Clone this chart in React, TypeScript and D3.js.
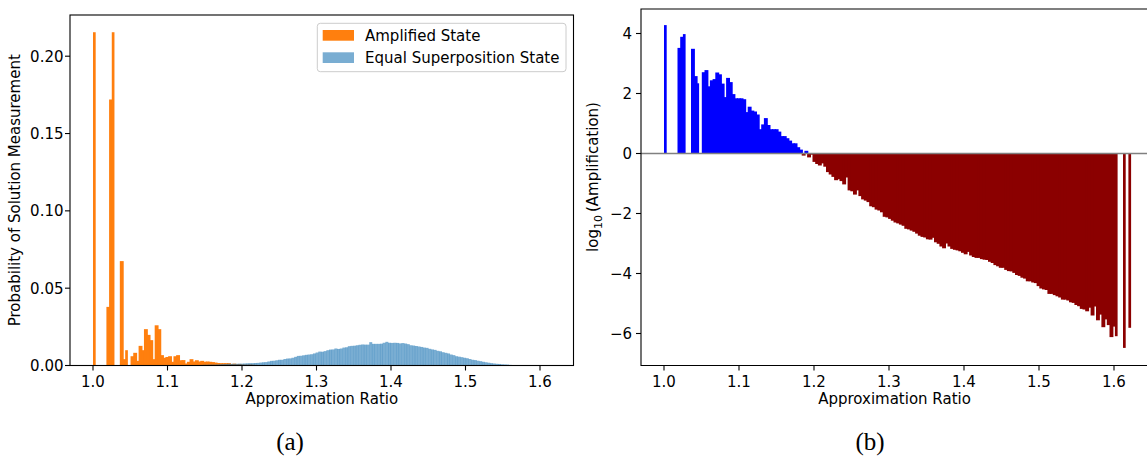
import React from 'react';
import * as d3 from 'd3';

// Bins of approximation ratio: bin i covers [BIN_START + i*BIN_WIDTH, BIN_START + (i+1)*BIN_WIDTH]
const BIN_START = 1.0;
const BIN_WIDTH = 0.0036;

// Probability of measuring each ratio bin after amplification (bins 0..64; later bins are negligible)
const amplifiedState = [
  0.2155, 0, 0, 0, 0, 0.0379, 0.172, 0.2155, 0, 0,
  0.0675, 0.0041, 0.0099, 0, 0.006, 0.0082, 0.003, 0.0127, 0.0099, 0.0235,
  0.0198, 0.0164, 0.0041, 0.026, 0.0235, 0.0067, 0.005, 0.0055, 0.006, 0.0024,
  0.006, 0.0067, 0.0034, 0.0035, 0.0013, 0.0024, 0.0041, 0.0026, 0.0034, 0.0026,
  0.003, 0.0024, 0.0026, 0.0024, 0.0022, 0.0019, 0.0016, 0.0015, 0.0015, 0.0015,
  0.0015, 0.0009, 0.0012, 0.0008, 0.001, 0.0007, 0.0006, 0.0006, 0.0007, 0.0005,
  0.0004, 0.0003, 0.0003, 0.0003, 0.0003,
];

// Probability under the equal superposition state, starting at bin EQUAL_FIRST_BIN
const EQUAL_FIRST_BIN = 40;
const equalSuperposition = [
  0.0004, 0.0005, 0.0005, 0.0006, 0.0006, 0.0006, 0.0007, 0.0008, 0.0009, 0.001,
  0.0011, 0.0011, 0.0011, 0.0011, 0.0012, 0.0012, 0.0013, 0.0014, 0.0015, 0.0015,
  0.0016, 0.0017, 0.0019, 0.0021, 0.0022, 0.0026, 0.003, 0.0031, 0.0034, 0.0037,
  0.0037, 0.0042, 0.0045, 0.0046, 0.005, 0.0056, 0.0062, 0.0063, 0.0066, 0.0069,
  0.0071, 0.0073, 0.0078, 0.0084, 0.009, 0.0089, 0.0093, 0.0099, 0.0103, 0.0104,
  0.011, 0.0107, 0.011, 0.0116, 0.0118, 0.0125, 0.0127, 0.0128, 0.0131, 0.0134,
  0.0136, 0.0135, 0.0135, 0.0151, 0.014, 0.014, 0.014, 0.0141, 0.0147, 0.0153,
  0.0147, 0.0146, 0.0147, 0.0146, 0.0143, 0.0145, 0.0142, 0.0138, 0.0131, 0.0129,
  0.0126, 0.0123, 0.012, 0.0116, 0.0114, 0.0108, 0.0104, 0.0101, 0.0095, 0.0092,
  0.0086, 0.0082, 0.0078, 0.0071, 0.0067, 0.006, 0.0057, 0.0054, 0.005, 0.0047,
  0.0042, 0.0037, 0.0035, 0.0031, 0.0028, 0.0024, 0.0021, 0.0018, 0.0015, 0.0013,
  0.0011, 0.001, 0.0008, 0.0007, 0.0006, 0.0004, 0.0003, 0.0002,
];

// log10 of amplified / equal probability per bin (null: ratio not reached)
const log10Amplification: (number | null)[] = [
  4.28, null, null, null, null, 3.52, 3.89, 3.98, null, null,
  3.49, 2.58, 2.34, null, 2.71, 2.78, 2.24, 2.44, 2.48, 2.7,
  2.64, 2.33, 1.88, 2.52, 2.38, 1.98, 1.84, 1.84, 1.84, 1.81,
  1.38, 1.56, 1.43, 1.4, 1.3, 0.81, 0.97, 1.18, 0.95, 0.81,
  0.81, 0.81, 0.73, 0.58, 0.58, 0.51, 0.43, 0.34, 0.34, 0.21,
  0.13, -0.07, 0.09, -0.13, -0.04, -0.28, -0.35, -0.4, -0.33, -0.44,
  -0.62, -0.7, -0.78, -0.89, -0.86, -0.92, -1.03, -0.8, -1.23, -1.26,
  -1.37, -1.23, -1.42, -1.53, -1.57, -1.62, -1.76, -1.79, -1.87, -1.9,
  -1.96, -2.11, -2.13, -2.18, -2.24, -2.3, -2.33, -2.37, -2.41, -2.51,
  -2.53, -2.57, -2.61, -2.67, -2.74, -2.78, -2.8, -2.86, -2.87, -2.81,
  -2.96, -3.01, -3.1, -3.16, -3.0, -3.1, -3.18, -3.21, -3.23, -3.26,
  -3.31, -3.36, -3.28, -3.4, -3.45, -3.48, -3.48, -3.52, -3.54, -3.55,
  -3.61, -3.65, -3.72, -3.76, -3.81, -3.81, -3.88, -3.92, -3.93, -3.98,
  -4.05, -4.08, -4.14, -4.17, -4.26, -4.26, -4.3, -4.32, -4.42, -4.5,
  -4.53, -4.55, -4.68, -4.68, -4.72, -4.76, -4.8, -4.87, -4.87, -4.9,
  -4.96, -4.98, -5.05, -5.09, -5.18, -5.2, -5.26, -5.14, -5.4, -5.1,
  -5.56, -5.37, -5.79, -5.53, -5.72, -6.12, -5.77, -6.09, null, null,
  -6.48, null, -5.81,
];

const ratioTicks = [1.0, 1.1, 1.2, 1.3, 1.4, 1.5, 1.6];
const probTicks = [0, 0.05, 0.1, 0.15, 0.2];
const logTicks = [-6, -4, -2, 0, 2, 4];

const legendItems = [
  { label: 'Amplified State', color: '#ff7f0e', opacity: 1 },
  { label: 'Equal Superposition State', color: '#1f77b4', opacity: 0.6 },
];

const FONT = 'DejaVu Sans, sans-serif';
const FS = 15;
const TICK = 5;
const SPINE = 1.1;
// solid bars are drawn a little wider so neighbouring bins fuse without seams
const SEAM = 1.2;

const binLo = (i: number) => BIN_START + i * BIN_WIDTH;
const binHi = (i: number) => BIN_START + (i + 1) * BIN_WIDTH;

export default function App() {
  // Left panel frame
  const L = { x0: 70, x1: 573.5, y0: 15, y1: 365.5 };
  const xL = d3.scaleLinear().domain([1.0, 1.6]).range([93, 540]);
  const yL = d3.scaleLinear().domain([0, 0.2]).range([365.5, 56.2]);

  // Right panel frame (right spine falls just past the page edge)
  const R = { x0: 641, x1: 1148, y0: 9, y1: 365.5 };
  const xR = d3.scaleLinear().domain([1.0, 1.6]).range([664, 1114]);
  const yR = d3.scaleLinear().domain([0, 4]).range([153.5, 33.5]);

  const fmt2 = d3.format('.2f');
  const fmt1 = d3.format('.1f');
  const fmtLog = (v: number) => (v < 0 ? '\u2212' + Math.abs(v) : String(v));

  const orangeBars = amplifiedState.map((p, i) => ({ i, p })).filter((d) => d.p > 0);
  const blueBars = equalSuperposition.map((p, k) => ({ i: k + EQUAL_FIRST_BIN, p }));
  const logBars = log10Amplification
    .map((v, i) => ({ i, v }))
    .filter((d) => d.v !== null) as { i: number; v: number }[];

  // a bar continues into the next bin if that bin is also drawn
  const amplifiedNext = (i: number) => (amplifiedState[i + 1] ?? 0) > 0;
  const logNext = (i: number) => log10Amplification[i + 1] != null;

  const legX = 317.3;
  const legY = 23.3;

  return (
    <svg
      width={1147}
      height={460}
      style={{ position: 'absolute', left: 0, top: 0, background: '#fff' }}
      fontFamily={FONT}
    >
      <rect x={0} y={0} width={1147} height={460} fill="#fff" />

      {/* ---------- Left panel ---------- */}
      <g>
        {orangeBars.map((d) => (
          <rect
            key={'o' + d.i}
            x={xL(binLo(d.i))}
            width={xL(binHi(d.i)) - xL(binLo(d.i)) + (amplifiedNext(d.i) ? SEAM : 0)}
            y={yL(d.p)}
            height={yL(0) - yL(d.p)}
            fill="#ff7f0e"
          />
        ))}
        {blueBars.map((d) => (
          <rect
            key={'b' + d.i}
            x={xL(binLo(d.i))}
            width={(xL(binHi(d.i)) - xL(binLo(d.i))) * 1.12}
            y={yL(d.p)}
            height={yL(0) - yL(d.p)}
            fill="#1f77b4"
            fillOpacity={0.6}
          />
        ))}

        <rect
          x={L.x0}
          y={L.y0}
          width={L.x1 - L.x0}
          height={L.y1 - L.y0}
          fill="none"
          stroke="#000"
          strokeWidth={SPINE}
        />

        {ratioTicks.map((t) => (
          <g key={'lx' + t}>
            <line x1={xL(t)} x2={xL(t)} y1={L.y1} y2={L.y1 + TICK} stroke="#000" strokeWidth={SPINE} />
            <text x={xL(t)} y={386.5} textAnchor="middle" fontSize={FS}>
              {fmt1(t)}
            </text>
          </g>
        ))}
        {probTicks.map((t) => (
          <g key={'ly' + t}>
            <line x1={L.x0 - TICK} x2={L.x0} y1={yL(t)} y2={yL(t)} stroke="#000" strokeWidth={SPINE} />
            <text x={63.5} y={yL(t) + 5.4} textAnchor="end" fontSize={FS}>
              {fmt2(t)}
            </text>
          </g>
        ))}

        <text x={(L.x0 + L.x1) / 2} y={403.5} textAnchor="middle" fontSize={FS}>
          Approximation Ratio
        </text>
        <text
          transform={`translate(20,${(L.y0 + L.y1) / 2}) rotate(-90)`}
          textAnchor="middle"
          fontSize={FS}
        >
          Probability of Solution Measurement
        </text>

        {/* legend */}
        <rect
          x={legX}
          y={legY}
          width={248.7}
          height={48.4}
          rx={3}
          fill="#fff"
          fillOpacity={0.8}
          stroke="#cccccc"
          strokeWidth={1}
        />
        {legendItems.map((it, k) => (
          <g key={it.label}>
            <rect
              x={legX + 5.4}
              y={legY + 6.7 + k * 22.3}
              width={31.3}
              height={10.7}
              fill={it.color}
              fillOpacity={it.opacity}
            />
            <text x={365} y={legY + 17.5 + k * 22.3} fontSize={FS}>
              {it.label}
            </text>
          </g>
        ))}
      </g>

      {/* ---------- Right panel ---------- */}
      <g>
        {logBars.map((d) => {
          const y0 = yR(0);
          const y1 = yR(d.v);
          return (
            <rect
              key={'r' + d.i}
              x={xR(binLo(d.i))}
              width={xR(binHi(d.i)) - xR(binLo(d.i)) + (logNext(d.i) ? SEAM : 0)}
              y={Math.min(y0, y1)}
              height={Math.abs(y1 - y0)}
              fill={d.v >= 0 ? '#0000ff' : '#8b0000'}
            />
          );
        })}

        <line x1={R.x0} x2={R.x1} y1={yR(0)} y2={yR(0)} stroke="#808080" strokeWidth={1.4} />

        <path
          d={`M${R.x1},${R.y0}H${R.x0}V${R.y1}H${R.x1}`}
          fill="none"
          stroke="#000"
          strokeWidth={SPINE}
        />

        {ratioTicks.map((t) => (
          <g key={'rx' + t}>
            <line x1={xR(t)} x2={xR(t)} y1={R.y1} y2={R.y1 + TICK} stroke="#000" strokeWidth={SPINE} />
            <text x={xR(t)} y={386.5} textAnchor="middle" fontSize={FS}>
              {fmt1(t)}
            </text>
          </g>
        ))}
        {logTicks.map((t) => (
          <g key={'ry' + t}>
            <line x1={R.x0 - TICK} x2={R.x0} y1={yR(t)} y2={yR(t)} stroke="#000" strokeWidth={SPINE} />
            <text x={632} y={yR(t) + 5.4} textAnchor="end" fontSize={FS}>
              {fmtLog(t)}
            </text>
          </g>
        ))}

        <text x={(R.x0 + R.x1) / 2} y={403.5} textAnchor="middle" fontSize={FS}>
          Approximation Ratio
        </text>
        <text
          transform={`translate(598,177) rotate(-90)`}
          textAnchor="middle"
          fontSize={FS}
        >
          log
          <tspan fontSize={11} dy={3.5}>10</tspan>
          <tspan dy={-3.5}>{'\u2009(Amplification)'}</tspan>
        </text>
      </g>

      {/* sub-figure captions */}
      <text x={290} y={450} textAnchor="middle" fontSize={25} fontFamily="Liberation Serif, serif">
        (a)
      </text>
      <text x={870} y={450} textAnchor="middle" fontSize={25} fontFamily="Liberation Serif, serif">
        (b)
      </text>
    </svg>
  );
}
